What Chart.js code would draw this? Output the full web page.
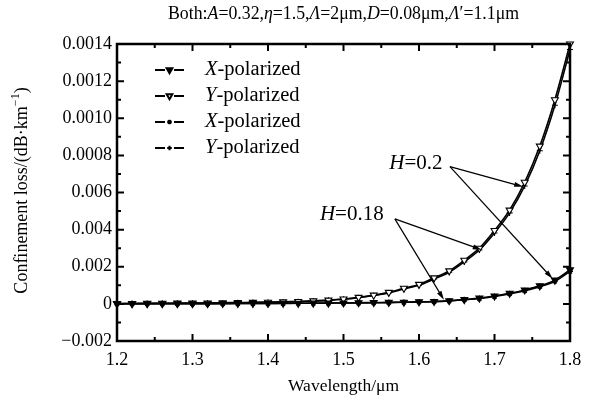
<!DOCTYPE html>
<html>
<head>
<meta charset="utf-8">
<script src="https://cdn.jsdelivr.net/npm/chart.js@4"></script>
<style>
  body { margin: 0; background: #fff; }
  canvas { display: block; }
</style>
</head>
<body>
<canvas id="loss-chart" width="594" height="401"></canvas>
<script>
// Data
const wavelength = [1.20, 1.22, 1.24, 1.26, 1.28, 1.30, 1.32, 1.34, 1.36, 1.38, 1.40,
  1.42, 1.44, 1.46, 1.48, 1.50, 1.52, 1.54, 1.56, 1.58, 1.60,
  1.62, 1.64, 1.66, 1.68, 1.70, 1.72, 1.74, 1.76, 1.78, 1.80];

const xPolA = [0.000001, 0.000001, 0.000001, 0.000001, 0.000001, 0.000001, 0.000001, 0.000002, 0.000002, 0.000002, 0.000002,
  0.000003, 0.000003, 0.000004, 0.000004, 0.000005, 0.000006, 0.000007, 0.000008, 0.000009, 0.000011,
  0.000013, 0.000017, 0.000023, 0.000031, 0.000042, 0.000057, 0.000075, 0.000097, 0.000128, 0.000183];
const yPolA = [0.000002, 0.000002, 0.000003, 0.000003, 0.000004, 0.000004, 0.000005, 0.000006, 0.000007, 0.000008, 0.000009,
  0.000011, 0.000013, 0.000016, 0.000020, 0.000026, 0.000035, 0.000047, 0.000062, 0.000084, 0.000105,
  0.000140, 0.000178, 0.000235, 0.000300, 0.000395, 0.000505, 0.000655, 0.000850, 0.001100, 0.001400];
const xPolB = [0.000001, 0.000001, 0.000001, 0.000001, 0.000001, 0.000001, 0.000001, 0.000001, 0.000002, 0.000002, 0.000002,
  0.000002, 0.000003, 0.000003, 0.000004, 0.000005, 0.000005, 0.000006, 0.000007, 0.000009, 0.000010,
  0.000012, 0.000016, 0.000022, 0.000029, 0.000040, 0.000054, 0.000071, 0.000093, 0.000122, 0.000175];
const yPolB = [0.000002, 0.000002, 0.000002, 0.000003, 0.000003, 0.000004, 0.000005, 0.000005, 0.000006, 0.000007, 0.000009,
  0.000010, 0.000012, 0.000015, 0.000019, 0.000025, 0.000033, 0.000045, 0.000059, 0.000080, 0.000100,
  0.000134, 0.000170, 0.000226, 0.000290, 0.000382, 0.000490, 0.000635, 0.000825, 0.001070, 0.001370];

const yTickLabels = ['\u22120.002', '0', '0.002', '0.004', '0.006', '0.0008', '0.0010', '0.0012', '0.0014'];

// Annotations in data units: [label, textX, textY, fromX, fromY, [toX, toY], [toX, toY]]
const annotations = [
  ['0.2', 1.596, 0.000755, 1.641, 0.000739, [1.738, 0.000631], [1.777, 0.000135]],
  ['0.18', 1.511, 0.000480, 1.568, 0.000458, [1.683, 0.000291], [1.633, 0.000022]]
];

const FONT = '"Liberation Serif", "DejaVu Serif", serif';

function points(ys) {
  return wavelength.map((x, i) => ({ x: x, y: ys[i] }));
}

const series = [
  { label: 'X', data: xPolA, pointStyle: 'triangle', rotation: 180, fill: '#000', radius: 4 },
  { label: 'Y', data: yPolA, pointStyle: 'triangle', rotation: 180, fill: '#fff', radius: 4 },
  { label: 'X', data: xPolB, pointStyle: 'star', rotation: 0, fill: '#000', radius: 3 },
  { label: 'Y', data: yPolB, pointStyle: 'cross', rotation: 0, fill: '#000', radius: 3 }
];

// draw a run of text pieces, some italic
function drawRich(ctx, parts, x, y, align, size) {
  let total = 0;
  parts.forEach(p => {
    ctx.font = (p[1] ? 'italic ' : '') + size + 'px ' + FONT;
    total += ctx.measureText(p[0]).width;
  });
  let cx = align === 'center' ? x - total / 2 : x;
  ctx.textAlign = 'left';
  ctx.textBaseline = 'middle';
  parts.forEach(p => {
    ctx.font = (p[1] ? 'italic ' : '') + size + 'px ' + FONT;
    ctx.fillText(p[0], cx, y);
    cx += ctx.measureText(p[0]).width;
  });
}

function arrow(ctx, x1, y1, x2, y2) {
  const ang = Math.atan2(y2 - y1, x2 - x1);
  const len = 9, half = 2.5;
  ctx.beginPath();
  ctx.moveTo(x1, y1);
  ctx.lineTo(x2 - Math.cos(ang) * len * 0.8, y2 - Math.sin(ang) * len * 0.8);
  ctx.stroke();
  ctx.beginPath();
  ctx.moveTo(x2, y2);
  ctx.lineTo(x2 - Math.cos(ang) * len - Math.sin(ang) * half, y2 - Math.sin(ang) * len + Math.cos(ang) * half);
  ctx.lineTo(x2 - Math.cos(ang) * len + Math.sin(ang) * half, y2 - Math.sin(ang) * len - Math.cos(ang) * half);
  ctx.closePath();
  ctx.fill();
}

const decorations = {
  id: 'decorations',
  afterDraw(chart) {
    const ctx = chart.ctx;
    const a = chart.chartArea;
    const xs = chart.scales.x, ys = chart.scales.y;
    ctx.save();
    ctx.fillStyle = '#000';
    ctx.strokeStyle = '#000';

    // frame
    ctx.lineWidth = 2.5;
    ctx.strokeRect(a.left, a.top, a.right - a.left, a.bottom - a.top);

    // inward ticks on all four sides
    ctx.lineWidth = 2;
    ctx.beginPath();
    for (let i = 0; i <= 12; i++) {
      const v = 1.2 + i * 0.05;
      const px = xs.getPixelForValue(v);
      const len = i % 2 === 0 ? 7 : 4;
      ctx.moveTo(px, a.bottom); ctx.lineTo(px, a.bottom - len);
      ctx.moveTo(px, a.top); ctx.lineTo(px, a.top + len);
    }
    for (let i = 0; i <= 16; i++) {
      const v = -0.0002 + i * 0.0001;
      const py = ys.getPixelForValue(v);
      const len = i % 2 === 0 ? 7 : 4;
      ctx.moveTo(a.left, py); ctx.lineTo(a.left + len, py);
      ctx.moveTo(a.right, py); ctx.lineTo(a.right - len, py);
    }
    ctx.stroke();

    // title
    drawRich(ctx, [['Both:', false], ['A', true], ['=0.32,', false], ['\u03b7', true], ['=1.5,', false],
      ['\u039b', true], ['=2\u03bcm,', false], ['D', true], ['=0.08\u03bcm,', false], ['\u039b', true],
      ['\u2032=1.1\u03bcm', false]], (a.left + a.right) / 2, 14, 'center', 17.8);

    // x axis title
    drawRich(ctx, [['Wavelength/\u03bcm', false]], (a.left + a.right) / 2, 386, 'center', 17.5);

    // y axis title, rotated
    ctx.save();
    ctx.translate(22, (a.top + a.bottom) / 2 - 2);
    ctx.rotate(-Math.PI / 2);
    const main = 'Confinement loss/(dB\u00b7km';
    ctx.font = '12px ' + FONT;
    const supW = ctx.measureText('\u22121').width;
    ctx.font = '18px ' + FONT;
    const w = ctx.measureText(main).width + supW + ctx.measureText(')').width;
    let cx = -w / 2;
    ctx.textAlign = 'left';
    ctx.textBaseline = 'middle';
    ctx.fillText(main, cx, 0);
    cx += ctx.measureText(main).width;
    ctx.font = '12px ' + FONT;
    ctx.fillText('\u22121', cx, -6);
    cx += supW;
    ctx.font = '18px ' + FONT;
    ctx.fillText(')', cx, 0);
    ctx.restore();

    // legend
    series.forEach((s, i) => {
      const ly = 70 + i * 26;
      const lx = 155;
      ctx.lineWidth = 2;
      ctx.beginPath();
      ctx.moveTo(lx, ly); ctx.lineTo(lx + 10, ly);
      ctx.moveTo(lx + 19, ly); ctx.lineTo(lx + 29, ly);
      ctx.stroke();
      ctx.fillStyle = s.fill;
      Chart.helpers.drawPoint(ctx, { pointStyle: s.pointStyle, radius: s.radius - 0.7, rotation: s.rotation, borderWidth: 1.1 }, lx + 14.5, ly);
      ctx.fillStyle = '#000';
      drawRich(ctx, [[s.label, true], ['-polarized', false]], lx + 50, ly, 'left', 20.5);
    });

    // H annotations with arrows
    ctx.lineWidth = 1.2;
    annotations.forEach(an => {
      drawRich(ctx, [['H', true], ['=' + an[0], false]],
        xs.getPixelForValue(an[1]), ys.getPixelForValue(an[2]), 'center', 21);
      const fx = xs.getPixelForValue(an[3]), fy = ys.getPixelForValue(an[4]);
      [an[5], an[6]].forEach(t => {
        arrow(ctx, fx, fy, xs.getPixelForValue(t[0]), ys.getPixelForValue(t[1]));
      });
    });
    ctx.restore();
  }
};

function renderLossChart() {
  const ctx = document.getElementById('loss-chart').getContext('2d');
  new Chart(ctx, {
    type: 'line',
    data: {
      datasets: series.map(s => ({
        label: s.label,
        data: points(s.data),
        borderColor: '#000',
        borderWidth: 1.6,
        pointStyle: s.pointStyle,
        pointRotation: s.rotation,
        pointRadius: s.radius,
        pointBorderWidth: 1.1,
        pointBorderColor: '#000',
        pointBackgroundColor: s.fill,
        tension: 0.3,
        fill: false,
        clip: false
      }))
    },
    options: {
      responsive: false,
      animation: false,
      devicePixelRatio: 1,
      layout: { padding: { top: 44, right: 24, left: 0, bottom: 0 } },
      plugins: { legend: { display: false }, title: { display: false }, tooltip: { enabled: false } },
      scales: {
        x: {
          type: 'linear',
          min: 1.2,
          max: 1.8,
          grid: { display: false, drawTicks: false },
          border: { display: false },
          ticks: {
            stepSize: 0.1,
            padding: 8,
            color: '#000',
            font: { family: FONT, size: 18 },
            maxRotation: 0,
            callback: v => v.toFixed(1)
          },
          afterFit: s => { s.height = 60; }
        },
        y: {
          min: -0.0002,
          max: 0.0014,
          grid: { display: false, drawTicks: false },
          border: { display: false },
          ticks: {
            stepSize: 0.0002,
            padding: 5,
            color: '#000',
            font: { family: FONT, size: 18 },
            callback: (v, i) => yTickLabels[i]
          },
          afterFit: s => { s.width = 117; }
        }
      }
    },
    plugins: [decorations]
  });
}

renderLossChart();
</script>
</body>
</html>
